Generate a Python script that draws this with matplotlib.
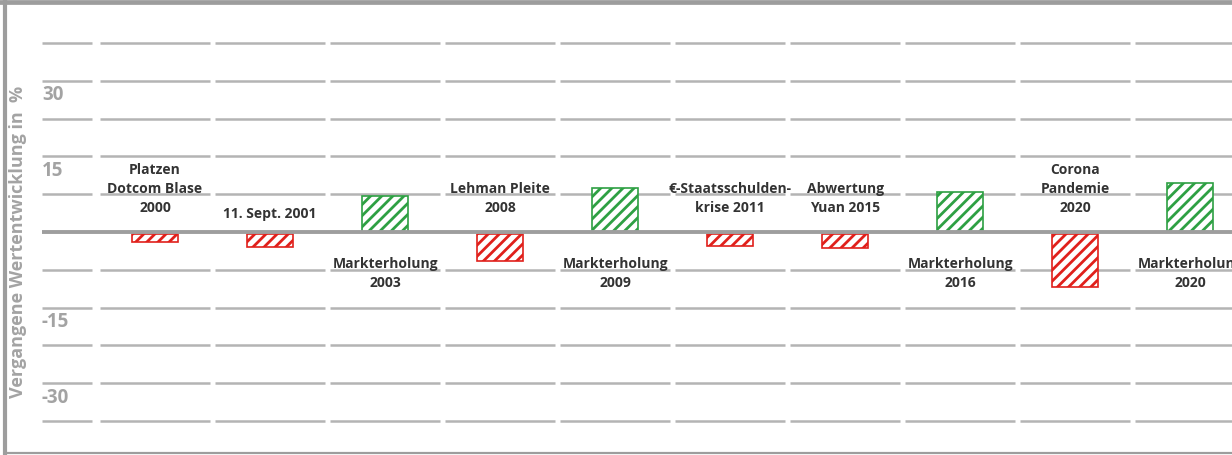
import matplotlib
matplotlib.use('Agg')
import matplotlib.pyplot as plt
from matplotlib.lines import Line2D

plt.rcParams['font.family'] = ['Open Sans', 'DejaVu Sans']
plt.rcParams['hatch.linewidth'] = 2.0

# events in chronological order, value = past performance in %
labels = ['Platzen\nDotcom Blase\n2000', '11. Sept. 2001', 'Markterholung\n2003',
          'Lehman Pleite\n2008', 'Markterholung\n2009', '€-Staatsschulden-\nkrise 2011',
          'Abwertung\nYuan 2015', 'Markterholung\n2016', 'Corona\nPandemie\n2020',
          'Markterholung\n2020']
values = [-1.7, -2.7, 7.1, -5.4, 8.7, -2.4, -2.8, 8.0, -10.5, 9.8]
yticks = [30, 15, -15, -30]
gridvals = [37.5, 30, 22.5, 15, 7.5, -7.5, -15, -22.5, -30, -37.5]

RED = '#e0201b'
GREEN = '#2ea043'
GRID = '#b4b4b4'
FRAME = '#9d9d9d'
TXT = '#333333'

fig = plt.figure(figsize=(12.32, 4.55), dpi=100)
ax = fig.add_axes([0, 0, 1, 1])
ax.set_xlim(-1.348, 9.365)
ax.set_ylim(-44.25, 46.03)
ax.axis('off')

n = len(values)
# broken horizontal gridlines, one segment per column
for g in gridvals:
    ax.hlines(g, -0.983, -0.548, color=GRID, lw=1.8, zorder=1)
    for i in range(n):
        ax.hlines(g, i - 0.48, i + 0.475, color=GRID, lw=1.8, zorder=1)
# zero line
ax.hlines(0, -0.983, 9.5, color='#9e9e9e', lw=2.8, zorder=3)

for i, (v, lab) in enumerate(zip(values, labels)):
    col = RED if v < 0 else GREEN
    ax.bar(i, v, width=0.4, bottom=0 if v > 0 else -0.35, facecolor='white',
           edgecolor=col, hatch='///', lw=1.2, zorder=2)
    if v < 0:
        # crisis label above zero line
        y = 3.4 if '\n' in lab else 2.1
        ax.text(i, y, lab, ha='center', va='bottom', fontsize=10,
                fontweight='bold', color=TXT, linespacing=1.45)
    else:
        ax.text(i, -5.0, lab, ha='center', va='top', fontsize=10,
                fontweight='bold', color=TXT, linespacing=1.45)

for t in yticks:
    ax.text(-0.983, t - 2.9, str(t), ha='left', va='center', fontsize=13.5,
            fontweight='bold', color='#a3a3a3')

fig.text(18 / 1232, 1 - 242 / 455, 'Vergangene Wertentwicklung in  %', rotation=90,
         ha='center', va='center', fontsize=13, fontweight='bold', color='#a3a3a3')

# gray frame (top, left, bottom)
fig.add_artist(Line2D([0, 1], [1 - 2 / 455, 1 - 2 / 455], color=FRAME, lw=3.4,
                      transform=fig.transFigure))
fig.add_artist(Line2D([5 / 1232, 5 / 1232], [1 - 453 / 455, 1], color=FRAME, lw=3.0,
                      transform=fig.transFigure))
fig.add_artist(Line2D([5 / 1232, 1], [1 - 453 / 455, 1 - 453 / 455], color=FRAME, lw=1.6,
                      transform=fig.transFigure))

fig.savefig('out.png', dpi=100)
